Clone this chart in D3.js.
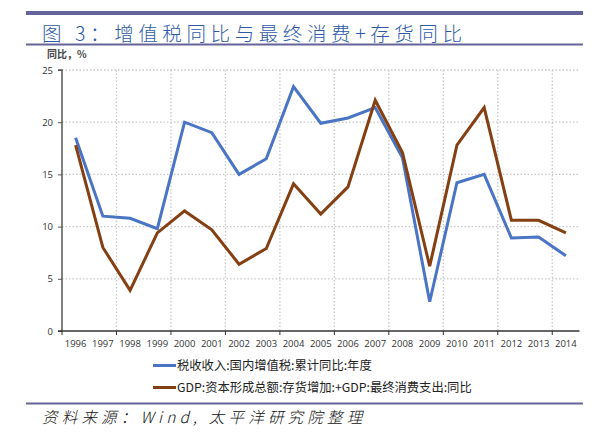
<!DOCTYPE html>
<html><head><meta charset="utf-8">
<script src="https://cdn.jsdelivr.net/npm/d3@7/dist/d3.min.js"></script>
<style>
html,body{margin:0;padding:0;background:#fff;}
svg{display:block;}
</style></head>
<body>
<script>
const years = ["1996","1997","1998","1999","2000","2001","2002","2003","2004","2005","2006","2007","2008","2009","2010","2011","2012","2013","2014"];
const vatYoY = [18.5,11.0,10.8,9.8,20.0,19.0,15.0,16.5,23.4,19.9,20.4,21.4,16.6,2.8,14.2,15.0,8.9,9.0,7.2];
const consInvYoY = [17.8,8.0,3.9,9.4,11.5,9.7,6.4,7.9,14.1,11.2,13.8,22.1,17.1,6.2,17.8,21.4,10.6,10.6,9.4];
const yTicks = [0,5,10,15,20,25];
const seriesNames = ["税收收入:国内增值税:累计同比:年度","GDP:资本形成总额:存货增加:+GDP:最终消费支出:同比"];
const title = "图 3：增值税同比与最终消费+存货同比";
const source = "资料来源：Wind, 太平洋研究院整理";
const yLabel = "同比，%";

const W = 608, H = 439;
const svg = d3.select("body").append("svg").attr("width", W).attr("height", H);
const frameColor = "#64649a";
const cjk = "'Noto Sans CJK SC', 'Noto Sans', sans-serif";

// header
svg.append("rect").attr("x", 26).attr("y", 11).attr("width", 557).attr("height", 4).attr("fill", frameColor);
svg.append("text").attr("x", 42).attr("y", 41).attr("font-family", cjk).attr("font-size", 19.5)
  .attr("fill", "#2c5aa6").attr("letter-spacing", 4.6).attr("font-weight", 300).text(title);
svg.append("rect").attr("x", 26).attr("y", 43.5).attr("width", 557).attr("height", 2).attr("fill", frameColor);

const m = {left: 62, top: 70, right: 579.5, bottom: 331};
const x = d3.scaleBand().domain(years).range([m.left, m.right]).padding(0);
const y = d3.scaleLinear().domain([0, 25]).range([m.bottom, m.top]);

// gridlines horizontal
const g = svg.append("g");
g.selectAll(".hg").data(yTicks.filter(d => d > 0)).join("line")
  .attr("x1", m.left).attr("x2", m.right).attr("y1", d => y(d)).attr("y2", d => y(d))
  .attr("stroke", "#c8c8c8").attr("stroke-width", 1.3).attr("stroke-dasharray", "1.5,2");
// vertical gridlines every 2 categories at band boundaries
const vIdx = d3.range(2, years.length, 2);
g.selectAll(".vg").data(vIdx).join("line")
  .attr("x1", d => x(years[d])).attr("x2", d => x(years[d]))
  .attr("y1", m.top).attr("y2", m.bottom)
  .attr("stroke", "#c8c8c8").attr("stroke-width", 1.3).attr("stroke-dasharray", "1.5,2");

// y axis
const yAxis = d3.axisLeft(y).tickValues(yTicks).tickSize(4).tickPadding(5);
const ya = svg.append("g").attr("transform", `translate(${m.left},0)`).call(yAxis);
ya.select(".domain").attr("stroke", "#555").attr("stroke-width", 1.5).attr("d", `M-4,${m.top}H0V${m.bottom}`);
ya.selectAll(".tick line").attr("stroke", "#555").attr("stroke-width", 1);
ya.selectAll(".tick text").attr("font-family", "'Open Sans', 'DejaVu Sans', sans-serif").attr("font-size", 9.5).attr("fill", "#333");

// x axis
const xa = svg.append("g").attr("transform", `translate(0,${m.bottom})`);
xa.append("line").attr("x1", m.left - 4).attr("x2", m.right).attr("y1", 0).attr("y2", 0).attr("stroke", "#333").attr("stroke-width", 1.3);
xa.selectAll(".xt").data([0].concat(vIdx)).join("line")
  .attr("x1", d => x(years[d])).attr("x2", d => x(years[d])).attr("y1", 0).attr("y2", 4)
  .attr("stroke", "#333").attr("stroke-width", 1);
xa.selectAll(".xl").data(years).join("text")
  .attr("x", d => x(d) + x.bandwidth() / 2).attr("y", 16)
  .attr("text-anchor", "middle").attr("font-family", "'Open Sans', 'DejaVu Sans', sans-serif")
  .attr("font-size", 9.5).attr("fill", "#333").text(d => d);

// y label
svg.append("text").attr("x", 47).attr("y", 58).attr("font-family", cjk).attr("font-size", 10)
  .attr("font-weight", 700).attr("fill", "#444").text(yLabel);

// lines
const colors = ["#4a74c4", "#843f12"];
const line = d3.line().x((d, i) => x(years[i]) + x.bandwidth() / 2).y(d => y(d));
[vatYoY, consInvYoY].forEach((s, k) => {
  svg.append("path").datum(s).attr("d", line).attr("fill", "none")
    .attr("stroke", colors[k]).attr("stroke-width", 3).attr("stroke-linejoin", "miter");
});

// legend
const lg = svg.append("g");
seriesNames.forEach((n, k) => {
  const ly = 365.5 + k * 22;
  lg.append("line").attr("x1", 153).attr("x2", 176).attr("y1", ly).attr("y2", ly)
    .attr("stroke", colors[k]).attr("stroke-width", 3);
  lg.append("text").attr("x", 177).attr("y", ly + 4.5).attr("font-family", cjk)
    .attr("font-size", 12.3).attr("fill", "#222").text(n);
});

// footer
svg.append("rect").attr("x", 26).attr("y", 402.5).attr("width", 557).attr("height", 2).attr("fill", frameColor);
svg.append("text").attr("x", 42).attr("y", 423).attr("font-family", cjk).attr("font-size", 15.5)
  .attr("font-style", "italic").attr("fill", "#111").attr("letter-spacing", 4.2).attr("font-weight", 300).text(source);
</script>
</body></html>
